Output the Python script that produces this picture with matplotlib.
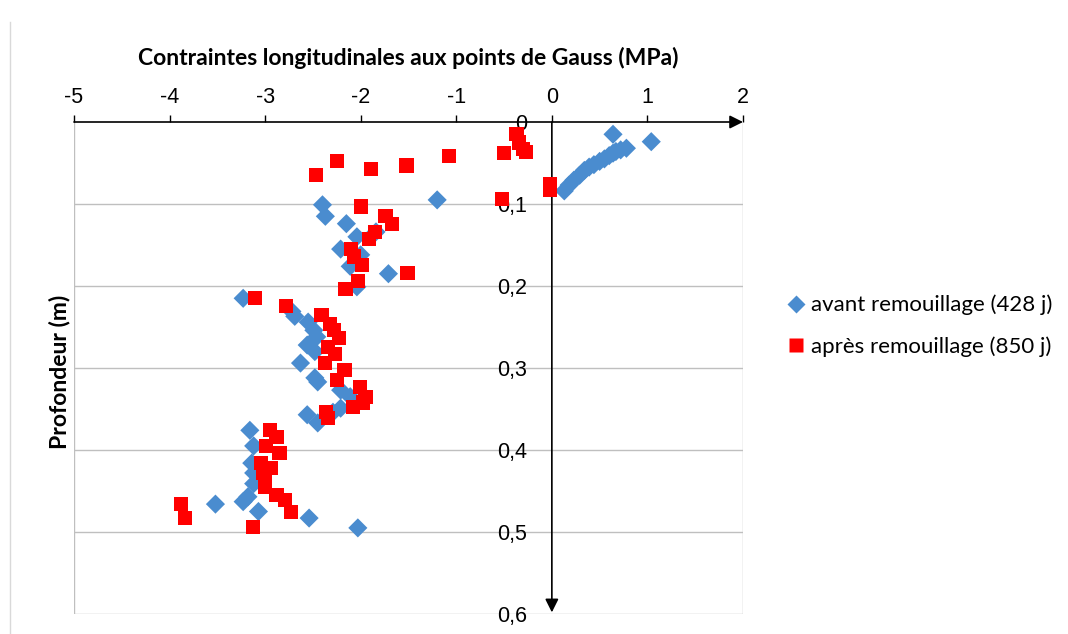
import matplotlib
matplotlib.use("Agg")
import matplotlib.pyplot as plt
from matplotlib.lines import Line2D

# ---- data ----
avant_x = [0.64, 1.04,
           0.78, 0.72, 0.67, 0.64, 0.60, 0.55, 0.50, 0.44, 0.39, 0.34, 0.29, 0.23, 0.18, 0.13,
           -1.20,
           -2.40, -2.37, -2.15, -1.84, -2.04, -2.21, -2.00, -2.11, -1.71, -2.04,
           -3.23, -2.72, -2.69, -2.55, -2.49, -2.46, -2.56, -2.48, -2.63, -2.48, -2.45, -2.21,
           -2.11, -2.21, -2.29, -2.56, -2.45,
           -3.16, -3.12, -3.14, -3.12, -3.12, -3.18, -3.23, -3.52, -3.07, -2.54, -2.03]
avant_d = [0.015, 0.024,
           0.032, 0.034, 0.036, 0.038, 0.041, 0.045, 0.048, 0.052, 0.055, 0.059, 0.065, 0.071, 0.077, 0.084,
           0.095,
           0.101, 0.115, 0.124, 0.134, 0.140, 0.155, 0.162, 0.176, 0.185, 0.201,
           0.215, 0.231, 0.237, 0.244, 0.254, 0.262, 0.272, 0.280, 0.294, 0.312, 0.317, 0.327,
           0.335, 0.349, 0.354, 0.357, 0.367,
           0.376, 0.395, 0.416, 0.428, 0.441, 0.457, 0.463, 0.466, 0.475, 0.483, 0.495]

apres_x = [-0.37, -0.34, -0.30, -0.27, -0.50, -1.08, -1.52, -1.89, -2.25, -2.47, -0.02, -0.02, -0.52,
           -2.00, -1.74, -1.67, -1.85, -1.91, -2.10, -2.07, -1.99, -1.51, -2.03, -2.16,
           -3.11, -2.78, -2.41, -2.32, -2.28, -2.23, -2.34, -2.27, -2.37, -2.17, -2.25, -2.01,
           -1.95, -1.98, -2.08, -2.36, -2.34,
           -2.95, -2.88, -2.99, -2.85, -3.04, -2.94, -3.02, -3.00, -3.00, -2.88, -2.79, -2.73,
           -3.88, -3.84, -3.13]
apres_d = [0.015, 0.025, 0.033, 0.037, 0.038, 0.041, 0.053, 0.057, 0.048, 0.065, 0.076, 0.083, 0.094,
           0.103, 0.115, 0.124, 0.134, 0.143, 0.155, 0.164, 0.174, 0.184, 0.194, 0.204,
           0.215, 0.224, 0.235, 0.246, 0.254, 0.263, 0.274, 0.283, 0.294, 0.302, 0.315, 0.323,
           0.335, 0.342, 0.348, 0.354, 0.361,
           0.376, 0.384, 0.395, 0.404, 0.416, 0.422, 0.428, 0.437, 0.445, 0.455, 0.461, 0.476,
           0.466, 0.483, 0.494]

x_ticks = [-5, -4, -3, -2, -1, 0, 1, 2]
y_ticks = [0, 0.1, 0.2, 0.3, 0.4, 0.5, 0.6]
y_ticklabels = ["0", "0,1", "0,2", "0,3", "0,4", "0,5", "0,6"]
label_avant = "avant remouillage (428 j)"
label_apres = "après remouillage (850 j)"
title = "Contraintes longitudinales aux points de Gauss (MPa)"
ylabel = "Profondeur (m)"

BLUE = "#4A8CCF"
RED = "#FF0000"
GRID = "#BFBFBF"

W, H = 1068, 634
fig = plt.figure(figsize=(W / 100, H / 100), dpi=100)
ax = fig.add_axes([74 / W, 1 - 614 / H, (743 - 74) / W, (614 - 122) / H])

ax.set_xlim(-5, 2)
ax.set_ylim(0.6, 0)

# spines
for s in ["top", "bottom", "right"]:
    ax.spines[s].set_visible(False)
ax.spines["left"].set_position(("data", 0))
ax.spines["left"].set_visible(False)

# borders and grid
ax.axvline(-5, color=GRID, lw=1, zorder=0)
ax.axvline(2, color=GRID, lw=1, zorder=0)
for yv in y_ticks[1:]:
    ax.axhline(yv, color=GRID, lw=1, zorder=0)

# axes arrows
ax.annotate("", xy=(2.0, 0), xytext=(-5, 0), xycoords="data",
            arrowprops=dict(arrowstyle="-|>", color="black", lw=1.2, mutation_scale=20,
                            shrinkA=0, shrinkB=0), annotation_clip=False, zorder=3)
ax.annotate("", xy=(0, 0.598), xytext=(0, 0), xycoords="data",
            arrowprops=dict(arrowstyle="-|>", color="black", lw=1.2, mutation_scale=20,
                            shrinkA=0, shrinkB=0), annotation_clip=False, zorder=3)

# ticks
ax.xaxis.tick_top()
ax.set_xticks(x_ticks)
ax.set_xticklabels([str(v) for v in x_ticks])
ax.tick_params(axis="x", which="both", direction="out", length=5, width=1, color="black",
               pad=5, labelsize=15.5, labelfontfamily="Liberation Sans")
ax.set_yticks(y_ticks)
ax.set_yticklabels(y_ticklabels)
ax.tick_params(axis="y", length=0, pad=18, labelsize=15.5, labelfontfamily="Liberation Sans")

# data
ax.scatter(avant_x, avant_d, marker="D", s=95, color=BLUE, edgecolors="none", zorder=4,
           clip_on=False)
ax.scatter(apres_x, apres_d, marker="s", s=105, color=RED, edgecolors="none", zorder=5,
           clip_on=False)

# title & label
fig.text(408 / W, 1 - 58 / H, title, ha="center", va="center", fontsize=16.5,
         fontweight="bold", family="Lato")
fig.text(60 / W, 1 - 372 / H, ylabel, ha="center", va="center", rotation=90,
         fontsize=16.5, fontweight="bold", family="Lato")

# legend
handles = [Line2D([], [], ls="none", marker="D", markersize=9, color=BLUE, mec="none"),
           Line2D([], [], ls="none", marker="s", markersize=10, color=RED, mec="none")]
fig.legend(handles, [label_avant, label_apres], loc="upper left",
           bbox_to_anchor=(777 / W, 1 - 286 / H), frameon=False,
           prop={"family": "Lato", "size": 16}, handlelength=0.9, handletextpad=0.25,
           labelspacing=0.95, borderaxespad=0)

# faint outer frame line on the left
fig.add_artist(Line2D([10 / W, 10 / W], [0, 1 - 22 / H], transform=fig.transFigure,
                      color="#D9D9D9", lw=1))

fig.savefig("out.png", dpi=100)
